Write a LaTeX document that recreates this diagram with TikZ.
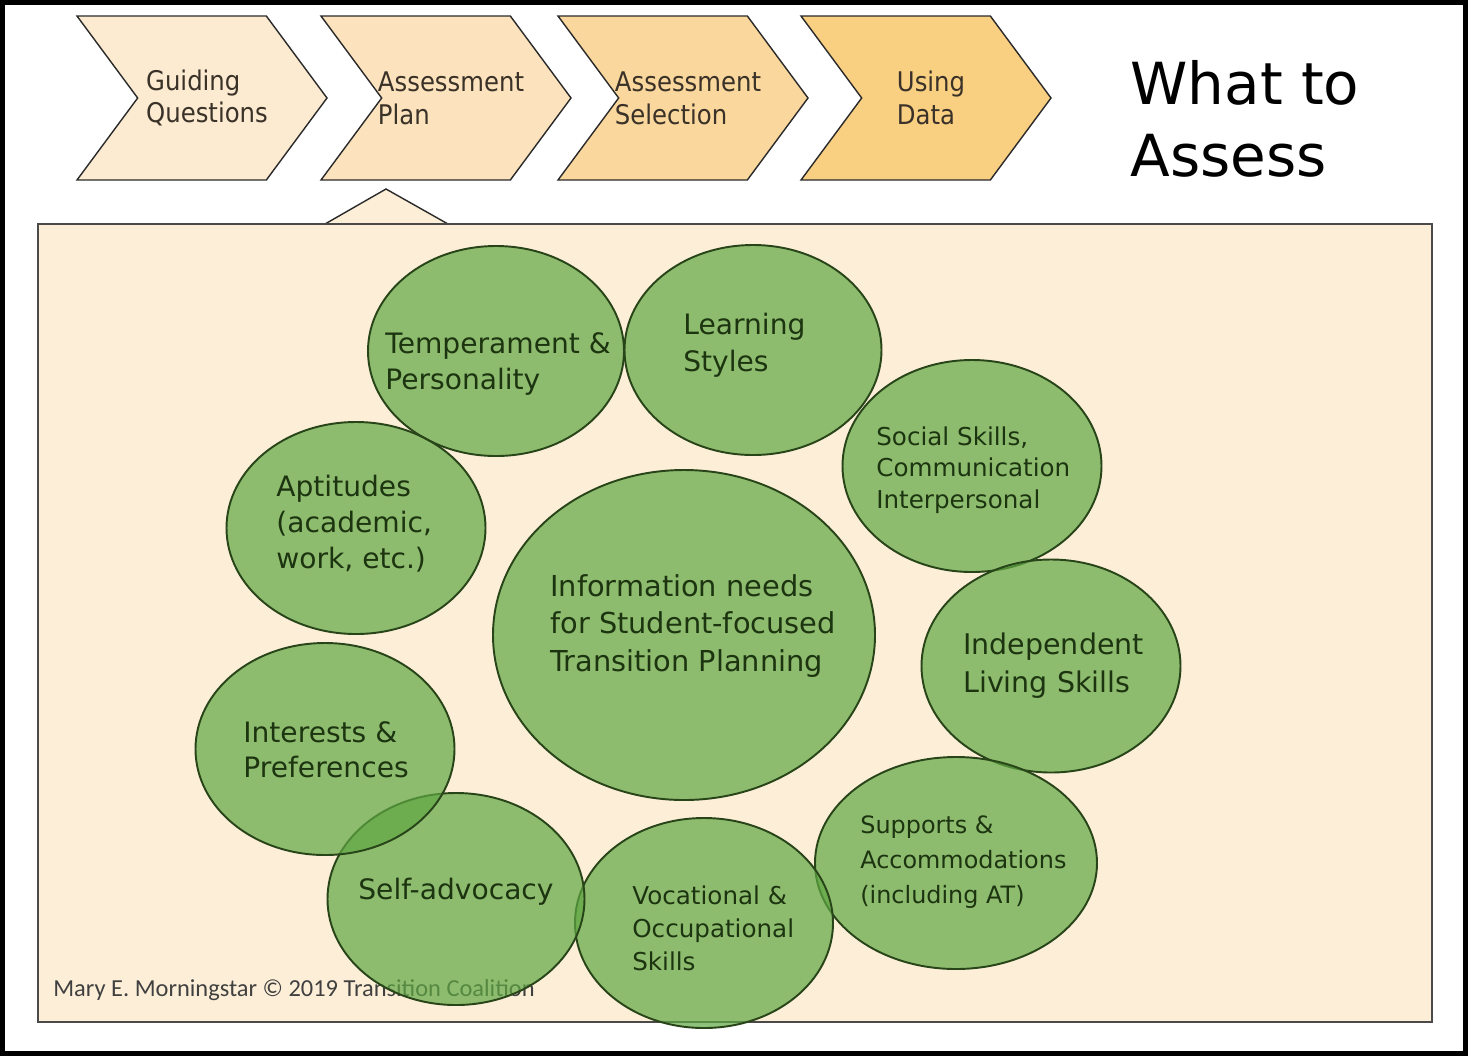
\documentclass[tikz,border=0pt]{standalone}
\usepackage{fontspec}
\setmainfont{DejaVu Sans}
\newfontfamily\condfont{DejaVu Sans Condensed}
\newfontfamily\notefont{Carlito}
\usetikzlibrary{shapes, arrows}
\definecolor{boxcol}{HTML}{FDEFD7}
\definecolor{c1col}{HTML}{FCEBD0}
\definecolor{c2col}{HTML}{FCE3BD}
\definecolor{c3col}{HTML}{FAD79C}
\definecolor{c4col}{HTML}{F9CF82}
\definecolor{linecol}{HTML}{2A2A2A}
\definecolor{chevtext}{HTML}{3A3228}
\definecolor{bubcol}{HTML}{5FA742}
\definecolor{bubline}{HTML}{284419}
\definecolor{bubtext}{HTML}{1C3410}
\tikzstyle{chev} = [signal, signal from=west, signal to=east, signal pointer angle=107, minimum width=5cm, minimum height=3.28cm, inner sep=0pt, draw=linecol, line width=0.8pt]
\tikzstyle{c1} = [chev, fill=c1col]
\tikzstyle{c2} = [chev, fill=c2col]
\tikzstyle{c3} = [chev, fill=c3col]
\tikzstyle{c4} = [chev, fill=c4col]
\tikzstyle{ctext} = [align=left, inner sep=0pt, text=chevtext, font=\condfont\fontsize{15.4}{18.7}\selectfont]
\tikzstyle{bubble} = [ellipse, draw=bubline, line width=1.1pt, fill=bubcol, fill opacity=0.7, inner sep=0pt]
\tikzstyle{btext} = [anchor=west, align=left, inner sep=0pt, text=bubtext, font=\fontsize{16}{21}\selectfont]
\tikzstyle{bsmall} = [btext, font=\fontsize{14}{18.5}\selectfont]

\begin{document}
\begin{tikzpicture}[node distance=1cm]
\useasboundingbox (0,0) rectangle (29.36,-21.12);
\fill [white] (0,0) rectangle (29.36,-21.12);

%Steps
\node (guide) [c1] at (4.04,-1.96) {};
\node (plan) [c2, right of=guide, xshift=3.88cm] {};
\node (select) [c3, right of=plan, xshift=3.74cm] {};
\node (usedata) [c4, right of=select, xshift=3.86cm] {};
\node (guidetxt) [ctext] at ([xshift=0.1cm]guide.center) {Guiding\\Questions};
\node (plantxt) [ctext] at ([xshift=0.1cm]plan.center) {Assessment\\Plan};
\node (selecttxt) [ctext] at ([xshift=0.1cm]select.center) {Assessment\\Selection};
\node (usedatatxt) [ctext] at ([xshift=0.1cm]usedata.center) {Using\\Data};
\node (title) [anchor=west, align=left, inner sep=0pt, font=\fontsize{33}{41}\selectfont] at (22.6,-2.38) {What to\\Assess};

%Panel
\draw [fill=boxcol, draw=linecol, line width=0.8pt] (6.5,-4.48) -- (7.72,-3.78) -- (8.96,-4.48);
\node (panel) [draw=linecol!85, line width=1pt, fill=boxcol, minimum width=27.88cm, minimum height=15.96cm, inner sep=0pt] at (14.7,-12.46) {};
\node (note) [anchor=west, inner sep=0pt, text=black!75, font=\notefont\fontsize{13.9}{16}\selectfont] at (1.06,-19.8) {Mary E. Morningstar © 2019 Transition Coalition};

%Bubbles
\node (temp) [bubble, minimum width=5.12cm, minimum height=4.2cm] at (9.92,-7.02) {};
\node (learn) [bubble, minimum width=5.14cm, minimum height=4.2cm] at (15.06,-7.0) {};
\node (social) [bubble, minimum width=5.18cm, minimum height=4.24cm] at (19.44,-9.32) {};
\node (indep) [bubble, minimum width=5.18cm, minimum height=4.26cm] at (21.02,-13.32) {};
\node (supp) [bubble, minimum width=5.64cm, minimum height=4.24cm] at (19.12,-17.26) {};
\node (voc) [bubble, minimum width=5.16cm, minimum height=4.2cm] at (14.08,-18.46) {};
\node (self) [bubble, minimum width=5.14cm, minimum height=4.24cm] at (9.12,-17.98) {};
\node (inter) [bubble, minimum width=5.18cm, minimum height=4.24cm] at (6.5,-14.98) {};
\node (apt) [bubble, minimum width=5.18cm, minimum height=4.24cm] at (7.12,-10.56) {};
\node (info) [bubble, minimum width=7.64cm, minimum height=6.6cm] at (13.68,-12.7) {};

%Bubble labels
\node (temptxt) [btext] at (7.70,-7.28) {Temperament \&\\Personality};
\node (learntxt) [btext] at (13.66,-6.90) {Learning\\Styles};
\node (socialtxt) [bsmall, font=\fontsize{14}{17.8}\selectfont] at (17.52,-9.40) {Social Skills,\\Communication\\Interpersonal};
\node (apttxt) [btext, font=\fontsize{16}{20.4}\selectfont] at (5.52,-10.48) {Aptitudes\\(academic,\\work, etc.)};
\node (infotxt) [btext, font=\fontsize{16.4}{21.3}\selectfont] at (11.00,-12.52) {Information needs\\for Student-focused\\Transition Planning};
\node (indeptxt) [btext, font=\fontsize{16.2}{21.5}\selectfont] at (19.26,-13.32) {Independent\\Living Skills};
\node (intertxt) [btext, font=\fontsize{16}{19.8}\selectfont] at (4.86,-15.00) {Interests \&\\Preferences};
\node (supptxt) [bsmall, font=\fontsize{13.6}{19.8}\selectfont] at (17.20,-17.24) {Supports \&\\Accommodations\\(including AT)};
\node (selftxt) [btext] at (7.16,-17.84) {Self-advocacy};
\node (voctxt) [bsmall, font=\fontsize{14}{18.7}\selectfont] at (12.64,-18.56) {Vocational \&\\Occupational\\Skills};

%Frame
\draw [black, line width=2.8pt] (0.05,-0.05) rectangle (29.31,-21.07);
\end{tikzpicture}
\end{document}
